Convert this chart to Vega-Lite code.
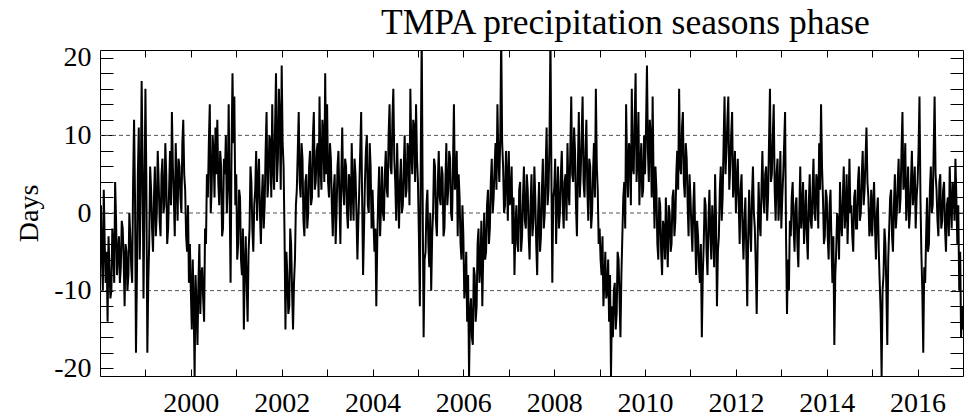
{
"$schema": "https://vega.github.io/schema/vega-lite/v6.json",
"width": 863, "height": 326,
"autosize": {"type": "none"},
"padding": {"left": 100, "top": 50, "right": 8, "bottom": 43},
"background": "white",
"config": {"view": {"stroke": "#000", "strokeWidth": 1}, "font": "Liberation Serif",
  "axis": {"labelFont": "Liberation Serif", "titleFont": "Liberation Serif", "labelColor": "#000", "titleColor": "#000", "tickColor": "#000", "grid": false, "domain": false}},
"title": {"text": "TMPA precipitation seasons phase", "fontSize": 35.5, "font": "Liberation Serif", "fontWeight": "normal", "color": "#000", "anchor": "start", "frame": "group", "dx": 281, "dy": 41, "offset": 15, "baseline": "alphabetic"},
"resolve": {"axis": {"x": "independent", "y": "independent"}},
"layer": [
 {"data": {"values": [{"g": -10}, {"g": 0}, {"g": 10}]},
  "mark": {"type": "rule", "color": "#555", "strokeDash": [4, 3], "strokeWidth": 1},
  "encoding": {"y": {"field": "g", "type": "quantitative", "scale": {"domain": [-21, 21], "nice": false, "zero": false},
    "axis": {"orient": "left", "values": [-20, -10, 0, 10, 20], "ticks": false, "labelExpr": "'' + datum.value", "labelFontSize": 28, "labelPadding": 9, "labelOverlap": false, "title": "Days", "titleFontSize": 28, "titleFontWeight": "normal", "titlePadding": 10}}}},
 {"data": {"values": [
{"t":1998,"v":-2},{"t":1998.021,"v":1},{"t":1998.042,"v":-6},{"t":1998.063,"v":-10},{"t":1998.083,"v":3},{"t":1998.104,"v":-4},{"t":1998.125,"v":-9},{"t":1998.146,"v":-5},{"t":1998.167,"v":-14},{"t":1998.188,"v":-3},{"t":1998.208,"v":-7},{"t":1998.229,"v":-11},{"t":1998.25,"v":-10},{"t":1998.271,"v":-2},{"t":1998.292,"v":-4},{"t":1998.313,"v":-9},{"t":1998.333,"v":4},{"t":1998.354,"v":-1},{"t":1998.375,"v":-8},{"t":1998.396,"v":-5},{"t":1998.417,"v":-3},{"t":1998.438,"v":-9},{"t":1998.458,"v":-7},{"t":1998.479,"v":-1},{"t":1998.5,"v":-2},{"t":1998.521,"v":-6},{"t":1998.542,"v":-12},{"t":1998.563,"v":-4},{"t":1998.583,"v":-5},{"t":1998.604,"v":-10},{"t":1998.625,"v":-8},{"t":1998.646,"v":0},{"t":1998.667,"v":-3},{"t":1998.688,"v":-7},{"t":1998.708,"v":-9},{"t":1998.729,"v":4},{"t":1998.75,"v":12},{"t":1998.771,"v":2},{"t":1998.792,"v":-18},{"t":1998.813,"v":-8},{"t":1998.833,"v":5},{"t":1998.854,"v":11},{"t":1998.875,"v":-6},{"t":1998.896,"v":3},{"t":1998.917,"v":17},{"t":1998.938,"v":6},{"t":1998.958,"v":-11},{"t":1998.979,"v":2},
{"t":1999,"v":16},{"t":1999.021,"v":4},{"t":1999.042,"v":-18},{"t":1999.063,"v":-9},{"t":1999.083,"v":-4},{"t":1999.104,"v":6},{"t":1999.125,"v":3},{"t":1999.146,"v":-2},{"t":1999.167,"v":-5},{"t":1999.188,"v":2},{"t":1999.208,"v":6},{"t":1999.229,"v":-3},{"t":1999.25,"v":0},{"t":1999.271,"v":8},{"t":1999.292,"v":4},{"t":1999.313,"v":-1},{"t":1999.333,"v":-3},{"t":1999.354,"v":5},{"t":1999.375,"v":7},{"t":1999.396,"v":0},{"t":1999.417,"v":1},{"t":1999.438,"v":9},{"t":1999.458,"v":5},{"t":1999.479,"v":-4},{"t":1999.5,"v":-2},{"t":1999.521,"v":3},{"t":1999.542,"v":8},{"t":1999.563,"v":1},{"t":1999.583,"v":13},{"t":1999.604,"v":6},{"t":1999.625,"v":2},{"t":1999.646,"v":-3},{"t":1999.667,"v":9},{"t":1999.688,"v":4},{"t":1999.708,"v":-1},{"t":1999.729,"v":7},{"t":1999.75,"v":6},{"t":1999.771,"v":2},{"t":1999.792,"v":0},{"t":1999.813,"v":9},{"t":1999.833,"v":12},{"t":1999.854,"v":5},{"t":1999.875,"v":3},{"t":1999.896,"v":-3},{"t":1999.917,"v":-5},{"t":1999.938,"v":1},{"t":1999.958,"v":-9},{"t":1999.979,"v":-4},
{"t":2000,"v":-10},{"t":2000.021,"v":-15},{"t":2000.042,"v":-6},{"t":2000.063,"v":-12},{"t":2000.083,"v":-21},{"t":2000.104,"v":-8},{"t":2000.125,"v":-12},{"t":2000.146,"v":-17},{"t":2000.167,"v":-9},{"t":2000.188,"v":-4},{"t":2000.208,"v":-13},{"t":2000.229,"v":-8},{"t":2000.25,"v":-7},{"t":2000.271,"v":-11},{"t":2000.292,"v":-14},{"t":2000.313,"v":-2},{"t":2000.333,"v":-4},{"t":2000.354,"v":5},{"t":2000.375,"v":2},{"t":2000.396,"v":9},{"t":2000.417,"v":14},{"t":2000.438,"v":0},{"t":2000.458,"v":3},{"t":2000.479,"v":10},{"t":2000.5,"v":8},{"t":2000.521,"v":2},{"t":2000.542,"v":11},{"t":2000.563,"v":5},{"t":2000.583,"v":12},{"t":2000.604,"v":4},{"t":2000.625,"v":1},{"t":2000.646,"v":8},{"t":2000.667,"v":6},{"t":2000.688,"v":-3},{"t":2000.708,"v":-2},{"t":2000.729,"v":7},{"t":2000.75,"v":5},{"t":2000.771,"v":10},{"t":2000.792,"v":0},{"t":2000.813,"v":4},{"t":2000.833,"v":14},{"t":2000.854,"v":2},{"t":2000.875,"v":-9},{"t":2000.896,"v":8},{"t":2000.917,"v":18},{"t":2000.938,"v":9},{"t":2000.958,"v":15},{"t":2000.979,"v":1},
{"t":2001,"v":5},{"t":2001.021,"v":-6},{"t":2001.042,"v":-4},{"t":2001.063,"v":3},{"t":2001.083,"v":2},{"t":2001.104,"v":-6},{"t":2001.125,"v":-8},{"t":2001.146,"v":-2},{"t":2001.167,"v":-15},{"t":2001.188,"v":-7},{"t":2001.208,"v":-3},{"t":2001.229,"v":-9},{"t":2001.25,"v":-14},{"t":2001.271,"v":-5},{"t":2001.292,"v":-2},{"t":2001.313,"v":6},{"t":2001.333,"v":4},{"t":2001.354,"v":-2},{"t":2001.375,"v":-5},{"t":2001.396,"v":1},{"t":2001.417,"v":3},{"t":2001.438,"v":8},{"t":2001.458,"v":-1},{"t":2001.479,"v":4},{"t":2001.5,"v":7},{"t":2001.521,"v":0},{"t":2001.542,"v":-4},{"t":2001.563,"v":2},{"t":2001.583,"v":5},{"t":2001.604,"v":-2},{"t":2001.625,"v":1},{"t":2001.646,"v":8},{"t":2001.667,"v":13},{"t":2001.688,"v":2},{"t":2001.708,"v":4},{"t":2001.729,"v":10},{"t":2001.75,"v":9},{"t":2001.771,"v":2},{"t":2001.792,"v":14},{"t":2001.813,"v":6},{"t":2001.833,"v":3},{"t":2001.854,"v":11},{"t":2001.875,"v":18},{"t":2001.896,"v":4},{"t":2001.917,"v":7},{"t":2001.938,"v":16},{"t":2001.958,"v":12},{"t":2001.979,"v":3},
{"t":2002,"v":19},{"t":2002.021,"v":9},{"t":2002.042,"v":6},{"t":2002.063,"v":-3},{"t":2002.083,"v":-15},{"t":2002.104,"v":-5},{"t":2002.125,"v":-8},{"t":2002.146,"v":-13},{"t":2002.167,"v":-12},{"t":2002.188,"v":-2},{"t":2002.208,"v":-4},{"t":2002.229,"v":-10},{"t":2002.25,"v":-15},{"t":2002.271,"v":-9},{"t":2002.292,"v":-6},{"t":2002.313,"v":1},{"t":2002.333,"v":3},{"t":2002.354,"v":8},{"t":2002.375,"v":13},{"t":2002.396,"v":4},{"t":2002.417,"v":2},{"t":2002.438,"v":9},{"t":2002.458,"v":7},{"t":2002.479,"v":-1},{"t":2002.5,"v":-3},{"t":2002.521,"v":4},{"t":2002.542,"v":5},{"t":2002.563,"v":-2},{"t":2002.583,"v":0},{"t":2002.604,"v":6},{"t":2002.625,"v":8},{"t":2002.646,"v":1},{"t":2002.667,"v":2},{"t":2002.688,"v":10},{"t":2002.708,"v":13},{"t":2002.729,"v":3},{"t":2002.75,"v":4},{"t":2002.771,"v":8},{"t":2002.792,"v":9},{"t":2002.813,"v":2},{"t":2002.833,"v":15},{"t":2002.854,"v":6},{"t":2002.875,"v":3},{"t":2002.896,"v":12},{"t":2002.917,"v":10},{"t":2002.938,"v":4},{"t":2002.958,"v":18},{"t":2002.979,"v":5},
{"t":2003,"v":14},{"t":2003.021,"v":4},{"t":2003.042,"v":2},{"t":2003.063,"v":9},{"t":2003.083,"v":7},{"t":2003.104,"v":1},{"t":2003.125,"v":-3},{"t":2003.146,"v":3},{"t":2003.167,"v":5},{"t":2003.188,"v":-4},{"t":2003.208,"v":0},{"t":2003.229,"v":6},{"t":2003.25,"v":8},{"t":2003.271,"v":2},{"t":2003.292,"v":-4},{"t":2003.313,"v":5},{"t":2003.333,"v":11},{"t":2003.354,"v":3},{"t":2003.375,"v":1},{"t":2003.396,"v":7},{"t":2003.417,"v":6},{"t":2003.438,"v":0},{"t":2003.458,"v":-2},{"t":2003.479,"v":5},{"t":2003.5,"v":4},{"t":2003.521,"v":-1},{"t":2003.542,"v":9},{"t":2003.563,"v":3},{"t":2003.583,"v":-1},{"t":2003.604,"v":7},{"t":2003.625,"v":5},{"t":2003.646,"v":0},{"t":2003.667,"v":-6},{"t":2003.688,"v":-1},{"t":2003.708,"v":3},{"t":2003.729,"v":8},{"t":2003.75,"v":13},{"t":2003.771,"v":2},{"t":2003.792,"v":-8},{"t":2003.813,"v":-2},{"t":2003.833,"v":4},{"t":2003.854,"v":8},{"t":2003.875,"v":10},{"t":2003.896,"v":1},{"t":2003.917,"v":0},{"t":2003.938,"v":9},{"t":2003.958,"v":6},{"t":2003.979,"v":-2},
{"t":2004,"v":3},{"t":2004.021,"v":-1},{"t":2004.042,"v":-5},{"t":2004.063,"v":-2},{"t":2004.083,"v":-12},{"t":2004.104,"v":-4},{"t":2004.125,"v":2},{"t":2004.146,"v":6},{"t":2004.167,"v":-3},{"t":2004.188,"v":1},{"t":2004.208,"v":6},{"t":2004.229,"v":0},{"t":2004.25,"v":-1},{"t":2004.271,"v":5},{"t":2004.292,"v":8},{"t":2004.313,"v":3},{"t":2004.333,"v":2},{"t":2004.354,"v":10},{"t":2004.375,"v":14},{"t":2004.396,"v":6},{"t":2004.417,"v":5},{"t":2004.438,"v":12},{"t":2004.458,"v":16},{"t":2004.479,"v":7},{"t":2004.5,"v":4},{"t":2004.521,"v":-1},{"t":2004.542,"v":9},{"t":2004.563,"v":3},{"t":2004.583,"v":-2},{"t":2004.604,"v":4},{"t":2004.625,"v":7},{"t":2004.646,"v":0},{"t":2004.667,"v":1},{"t":2004.688,"v":6},{"t":2004.708,"v":10},{"t":2004.729,"v":2},{"t":2004.75,"v":3},{"t":2004.771,"v":9},{"t":2004.792,"v":8},{"t":2004.813,"v":1},{"t":2004.833,"v":16},{"t":2004.854,"v":8},{"t":2004.875,"v":5},{"t":2004.896,"v":12},{"t":2004.917,"v":11},{"t":2004.938,"v":4},{"t":2004.958,"v":14},{"t":2004.979,"v":7},
{"t":2005,"v":4},{"t":2005.021,"v":-3},{"t":2005.042,"v":-12},{"t":2005.063,"v":8},{"t":2005.083,"v":23},{"t":2005.104,"v":2},{"t":2005.125,"v":-16},{"t":2005.146,"v":-6},{"t":2005.167,"v":-5},{"t":2005.188,"v":1},{"t":2005.208,"v":3},{"t":2005.229,"v":-4},{"t":2005.25,"v":-7},{"t":2005.271,"v":0},{"t":2005.292,"v":-10},{"t":2005.313,"v":-3},{"t":2005.333,"v":0},{"t":2005.354,"v":7},{"t":2005.375,"v":6},{"t":2005.396,"v":-1},{"t":2005.417,"v":-3},{"t":2005.438,"v":4},{"t":2005.458,"v":8},{"t":2005.479,"v":2},{"t":2005.5,"v":1},{"t":2005.521,"v":6},{"t":2005.542,"v":5},{"t":2005.563,"v":-3},{"t":2005.583,"v":-2},{"t":2005.604,"v":4},{"t":2005.625,"v":9},{"t":2005.646,"v":1},{"t":2005.667,"v":3},{"t":2005.688,"v":8},{"t":2005.708,"v":7},{"t":2005.729,"v":0},{"t":2005.75,"v":-1},{"t":2005.771,"v":6},{"t":2005.792,"v":14},{"t":2005.813,"v":3},{"t":2005.833,"v":4},{"t":2005.854,"v":8},{"t":2005.875,"v":-3},{"t":2005.896,"v":5},{"t":2005.917,"v":2},{"t":2005.938,"v":-4},{"t":2005.958,"v":-6},{"t":2005.979,"v":1},
{"t":2006,"v":-3},{"t":2006.021,"v":-11},{"t":2006.042,"v":-9},{"t":2006.063,"v":-5},{"t":2006.083,"v":-14},{"t":2006.104,"v":-8},{"t":2006.125,"v":-21},{"t":2006.146,"v":-13},{"t":2006.167,"v":-11},{"t":2006.188,"v":-16},{"t":2006.208,"v":-17},{"t":2006.229,"v":-7},{"t":2006.25,"v":-8},{"t":2006.271,"v":-14},{"t":2006.292,"v":-12},{"t":2006.313,"v":-4},{"t":2006.333,"v":-2},{"t":2006.354,"v":-9},{"t":2006.375,"v":-7},{"t":2006.396,"v":-1},{"t":2006.417,"v":-12},{"t":2006.438,"v":-5},{"t":2006.458,"v":0},{"t":2006.479,"v":-6},{"t":2006.5,"v":-5},{"t":2006.521,"v":1},{"t":2006.542,"v":3},{"t":2006.563,"v":-4},{"t":2006.583,"v":-2},{"t":2006.604,"v":4},{"t":2006.625,"v":7},{"t":2006.646,"v":0},{"t":2006.667,"v":2},{"t":2006.688,"v":6},{"t":2006.708,"v":9},{"t":2006.729,"v":3},{"t":2006.75,"v":14},{"t":2006.771,"v":7},{"t":2006.792,"v":4},{"t":2006.813,"v":10},{"t":2006.833,"v":23},{"t":2006.854,"v":9},{"t":2006.875,"v":6},{"t":2006.896,"v":0},{"t":2006.917,"v":1},{"t":2006.938,"v":8},{"t":2006.958,"v":5},{"t":2006.979,"v":-1},
{"t":2007,"v":8},{"t":2007.021,"v":1},{"t":2007.042,"v":2},{"t":2007.063,"v":6},{"t":2007.083,"v":-4},{"t":2007.104,"v":2},{"t":2007.125,"v":-8},{"t":2007.146,"v":-2},{"t":2007.167,"v":1},{"t":2007.188,"v":-4},{"t":2007.208,"v":-5},{"t":2007.229,"v":3},{"t":2007.25,"v":4},{"t":2007.271,"v":-5},{"t":2007.292,"v":-3},{"t":2007.313,"v":2},{"t":2007.333,"v":6},{"t":2007.354,"v":-1},{"t":2007.375,"v":-2},{"t":2007.396,"v":5},{"t":2007.417,"v":3},{"t":2007.438,"v":-3},{"t":2007.458,"v":-6},{"t":2007.479,"v":1},{"t":2007.5,"v":5},{"t":2007.521,"v":-3},{"t":2007.542,"v":-1},{"t":2007.563,"v":6},{"t":2007.583,"v":2},{"t":2007.604,"v":-4},{"t":2007.625,"v":-8},{"t":2007.646,"v":0},{"t":2007.667,"v":4},{"t":2007.688,"v":-5},{"t":2007.708,"v":-3},{"t":2007.729,"v":3},{"t":2007.75,"v":7},{"t":2007.771,"v":-2},{"t":2007.792,"v":0},{"t":2007.813,"v":6},{"t":2007.833,"v":11},{"t":2007.854,"v":1},{"t":2007.875,"v":3},{"t":2007.896,"v":9},{"t":2007.917,"v":23},{"t":2007.938,"v":5},{"t":2007.958,"v":-9},{"t":2007.979,"v":2},
{"t":2008,"v":3},{"t":2008.021,"v":7},{"t":2008.042,"v":-4},{"t":2008.063,"v":2},{"t":2008.083,"v":6},{"t":2008.104,"v":-2},{"t":2008.125,"v":0},{"t":2008.146,"v":5},{"t":2008.167,"v":8},{"t":2008.188,"v":1},{"t":2008.208,"v":-2},{"t":2008.229,"v":4},{"t":2008.25,"v":5},{"t":2008.271,"v":-1},{"t":2008.292,"v":9},{"t":2008.313,"v":3},{"t":2008.333,"v":1},{"t":2008.354,"v":8},{"t":2008.375,"v":15},{"t":2008.396,"v":5},{"t":2008.417,"v":4},{"t":2008.438,"v":11},{"t":2008.458,"v":8},{"t":2008.479,"v":1},{"t":2008.5,"v":-3},{"t":2008.521,"v":6},{"t":2008.542,"v":13},{"t":2008.563,"v":2},{"t":2008.583,"v":5},{"t":2008.604,"v":10},{"t":2008.625,"v":15},{"t":2008.646,"v":4},{"t":2008.667,"v":2},{"t":2008.688,"v":8},{"t":2008.708,"v":12},{"t":2008.729,"v":3},{"t":2008.75,"v":-1},{"t":2008.771,"v":7},{"t":2008.792,"v":6},{"t":2008.813,"v":-2},{"t":2008.833,"v":0},{"t":2008.854,"v":5},{"t":2008.875,"v":9},{"t":2008.896,"v":2},{"t":2008.917,"v":16},{"t":2008.938,"v":6},{"t":2008.958,"v":3},{"t":2008.979,"v":-4},
{"t":2009,"v":-2},{"t":2009.021,"v":-6},{"t":2009.042,"v":-8},{"t":2009.063,"v":-3},{"t":2009.083,"v":-12},{"t":2009.104,"v":-9},{"t":2009.125,"v":-5},{"t":2009.146,"v":-11},{"t":2009.167,"v":-10},{"t":2009.188,"v":-6},{"t":2009.208,"v":-14},{"t":2009.229,"v":-8},{"t":2009.25,"v":-21},{"t":2009.271,"v":-12},{"t":2009.292,"v":-16},{"t":2009.313,"v":-10},{"t":2009.333,"v":-9},{"t":2009.354,"v":-15},{"t":2009.375,"v":-13},{"t":2009.396,"v":-5},{"t":2009.417,"v":-6},{"t":2009.438,"v":-11},{"t":2009.458,"v":-16},{"t":2009.479,"v":-8},{"t":2009.5,"v":-3},{"t":2009.521,"v":2},{"t":2009.542,"v":4},{"t":2009.563,"v":-2},{"t":2009.583,"v":14},{"t":2009.604,"v":6},{"t":2009.625,"v":2},{"t":2009.646,"v":9},{"t":2009.667,"v":8},{"t":2009.688,"v":1},{"t":2009.708,"v":16},{"t":2009.729,"v":6},{"t":2009.75,"v":5},{"t":2009.771,"v":12},{"t":2009.792,"v":18},{"t":2009.813,"v":4},{"t":2009.833,"v":7},{"t":2009.854,"v":13},{"t":2009.875,"v":1},{"t":2009.896,"v":6},{"t":2009.917,"v":9},{"t":2009.938,"v":2},{"t":2009.958,"v":3},{"t":2009.979,"v":10},
{"t":2010,"v":5},{"t":2010.021,"v":11},{"t":2010.042,"v":19},{"t":2010.063,"v":8},{"t":2010.083,"v":4},{"t":2010.104,"v":12},{"t":2010.125,"v":10},{"t":2010.146,"v":2},{"t":2010.167,"v":15},{"t":2010.188,"v":4},{"t":2010.208,"v":-2},{"t":2010.229,"v":6},{"t":2010.25,"v":3},{"t":2010.271,"v":-4},{"t":2010.292,"v":-6},{"t":2010.313,"v":2},{"t":2010.333,"v":1},{"t":2010.354,"v":-5},{"t":2010.375,"v":-8},{"t":2010.396,"v":-1},{"t":2010.417,"v":-2},{"t":2010.438,"v":-6},{"t":2010.458,"v":2},{"t":2010.479,"v":-3},{"t":2010.5,"v":-7},{"t":2010.521,"v":1},{"t":2010.542,"v":0},{"t":2010.563,"v":-5},{"t":2010.583,"v":-4},{"t":2010.604,"v":2},{"t":2010.625,"v":3},{"t":2010.646,"v":-3},{"t":2010.667,"v":-1},{"t":2010.688,"v":5},{"t":2010.708,"v":8},{"t":2010.729,"v":3},{"t":2010.75,"v":16},{"t":2010.771,"v":6},{"t":2010.792,"v":5},{"t":2010.813,"v":11},{"t":2010.833,"v":13},{"t":2010.854,"v":4},{"t":2010.875,"v":2},{"t":2010.896,"v":9},{"t":2010.917,"v":7},{"t":2010.938,"v":1},{"t":2010.958,"v":-3},{"t":2010.979,"v":5},
{"t":2011,"v":2},{"t":2011.021,"v":-2},{"t":2011.042,"v":-5},{"t":2011.063,"v":1},{"t":2011.083,"v":4},{"t":2011.104,"v":-3},{"t":2011.125,"v":-8},{"t":2011.146,"v":-1},{"t":2011.167,"v":-3},{"t":2011.188,"v":-7},{"t":2011.208,"v":-9},{"t":2011.229,"v":-4},{"t":2011.25,"v":-16},{"t":2011.271,"v":-8},{"t":2011.292,"v":-4},{"t":2011.313,"v":2},{"t":2011.333,"v":1},{"t":2011.354,"v":-5},{"t":2011.375,"v":-8},{"t":2011.396,"v":-1},{"t":2011.417,"v":3},{"t":2011.438,"v":-3},{"t":2011.458,"v":-6},{"t":2011.479,"v":1},{"t":2011.5,"v":-2},{"t":2011.521,"v":-7},{"t":2011.542,"v":5},{"t":2011.563,"v":-1},{"t":2011.583,"v":-12},{"t":2011.604,"v":-5},{"t":2011.625,"v":-3},{"t":2011.646,"v":3},{"t":2011.667,"v":6},{"t":2011.688,"v":-1},{"t":2011.708,"v":2},{"t":2011.729,"v":9},{"t":2011.75,"v":15},{"t":2011.771,"v":5},{"t":2011.792,"v":8},{"t":2011.813,"v":12},{"t":2011.833,"v":15},{"t":2011.854,"v":3},{"t":2011.875,"v":6},{"t":2011.896,"v":10},{"t":2011.917,"v":13},{"t":2011.938,"v":2},{"t":2011.958,"v":4},{"t":2011.979,"v":8},
{"t":2012,"v":0},{"t":2012.021,"v":4},{"t":2012.042,"v":7},{"t":2012.063,"v":1},{"t":2012.083,"v":-4},{"t":2012.104,"v":3},{"t":2012.125,"v":5},{"t":2012.146,"v":-2},{"t":2012.167,"v":-6},{"t":2012.188,"v":-1},{"t":2012.208,"v":2},{"t":2012.229,"v":-5},{"t":2012.25,"v":-12},{"t":2012.271,"v":-3},{"t":2012.292,"v":3},{"t":2012.313,"v":-2},{"t":2012.333,"v":-5},{"t":2012.354,"v":2},{"t":2012.375,"v":6},{"t":2012.396,"v":0},{"t":2012.417,"v":-2},{"t":2012.438,"v":-7},{"t":2012.458,"v":-13},{"t":2012.479,"v":-4},{"t":2012.5,"v":4},{"t":2012.521,"v":-1},{"t":2012.542,"v":-3},{"t":2012.563,"v":3},{"t":2012.583,"v":8},{"t":2012.604,"v":2},{"t":2012.625,"v":0},{"t":2012.646,"v":5},{"t":2012.667,"v":6},{"t":2012.688,"v":-1},{"t":2012.708,"v":2},{"t":2012.729,"v":9},{"t":2012.75,"v":16},{"t":2012.771,"v":4},{"t":2012.792,"v":5},{"t":2012.813,"v":10},{"t":2012.833,"v":14},{"t":2012.854,"v":3},{"t":2012.875,"v":-1},{"t":2012.896,"v":5},{"t":2012.917,"v":7},{"t":2012.938,"v":-1},{"t":2012.958,"v":2},{"t":2012.979,"v":8},
{"t":2013,"v":-2},{"t":2013.021,"v":2},{"t":2013.042,"v":5},{"t":2013.063,"v":9},{"t":2013.083,"v":13},{"t":2013.104,"v":-3},{"t":2013.125,"v":-13},{"t":2013.146,"v":-6},{"t":2013.167,"v":-10},{"t":2013.188,"v":-1},{"t":2013.208,"v":-3},{"t":2013.229,"v":2},{"t":2013.25,"v":4},{"t":2013.271,"v":-2},{"t":2013.292,"v":-5},{"t":2013.313,"v":1},{"t":2013.333,"v":2},{"t":2013.354,"v":-4},{"t":2013.375,"v":-7},{"t":2013.396,"v":0},{"t":2013.417,"v":6},{"t":2013.438,"v":-2},{"t":2013.458,"v":0},{"t":2013.479,"v":4},{"t":2013.5,"v":-4},{"t":2013.521,"v":-1},{"t":2013.542,"v":3},{"t":2013.563,"v":-3},{"t":2013.583,"v":-6},{"t":2013.604,"v":1},{"t":2013.625,"v":5},{"t":2013.646,"v":-1},{"t":2013.667,"v":-2},{"t":2013.688,"v":3},{"t":2013.708,"v":7},{"t":2013.729,"v":0},{"t":2013.75,"v":-1},{"t":2013.771,"v":5},{"t":2013.792,"v":4},{"t":2013.813,"v":-2},{"t":2013.833,"v":9},{"t":2013.854,"v":3},{"t":2013.875,"v":14},{"t":2013.896,"v":6},{"t":2013.917,"v":2},{"t":2013.938,"v":-4},{"t":2013.958,"v":-3},{"t":2013.979,"v":3},
{"t":2014,"v":2},{"t":2014.021,"v":-3},{"t":2014.042,"v":-6},{"t":2014.063,"v":1},{"t":2014.083,"v":3},{"t":2014.104,"v":-4},{"t":2014.125,"v":-9},{"t":2014.146,"v":-3},{"t":2014.167,"v":-17},{"t":2014.188,"v":-8},{"t":2014.208,"v":-5},{"t":2014.229,"v":0},{"t":2014.25,"v":-1},{"t":2014.271,"v":-6},{"t":2014.292,"v":4},{"t":2014.313,"v":-1},{"t":2014.333,"v":-3},{"t":2014.354,"v":2},{"t":2014.375,"v":6},{"t":2014.396,"v":-2},{"t":2014.417,"v":0},{"t":2014.438,"v":5},{"t":2014.458,"v":-4},{"t":2014.479,"v":1},{"t":2014.5,"v":7},{"t":2014.521,"v":0},{"t":2014.542,"v":1},{"t":2014.563,"v":-3},{"t":2014.583,"v":-5},{"t":2014.604,"v":2},{"t":2014.625,"v":3},{"t":2014.646,"v":-2},{"t":2014.667,"v":-2},{"t":2014.688,"v":4},{"t":2014.708,"v":6},{"t":2014.729,"v":-1},{"t":2014.75,"v":0},{"t":2014.771,"v":5},{"t":2014.792,"v":8},{"t":2014.813,"v":1},{"t":2014.833,"v":3},{"t":2014.854,"v":7},{"t":2014.875,"v":11},{"t":2014.896,"v":4},{"t":2014.917,"v":2},{"t":2014.938,"v":-3},{"t":2014.958,"v":-2},{"t":2014.979,"v":3},
{"t":2015,"v":-3},{"t":2015.021,"v":1},{"t":2015.042,"v":4},{"t":2015.063,"v":-2},{"t":2015.083,"v":-6},{"t":2015.104,"v":0},{"t":2015.125,"v":2},{"t":2015.146,"v":-5},{"t":2015.167,"v":-9},{"t":2015.188,"v":-13},{"t":2015.208,"v":-21},{"t":2015.229,"v":-10},{"t":2015.25,"v":-8},{"t":2015.271,"v":-2},{"t":2015.292,"v":-4},{"t":2015.313,"v":-10},{"t":2015.333,"v":-17},{"t":2015.354,"v":-6},{"t":2015.375,"v":-2},{"t":2015.396,"v":2},{"t":2015.417,"v":3},{"t":2015.438,"v":-3},{"t":2015.458,"v":-5},{"t":2015.479,"v":1},{"t":2015.5,"v":5},{"t":2015.521,"v":-2},{"t":2015.542,"v":0},{"t":2015.563,"v":4},{"t":2015.583,"v":7},{"t":2015.604,"v":0},{"t":2015.625,"v":2},{"t":2015.646,"v":8},{"t":2015.667,"v":13},{"t":2015.688,"v":3},{"t":2015.708,"v":4},{"t":2015.729,"v":9},{"t":2015.75,"v":-1},{"t":2015.771,"v":2},{"t":2015.792,"v":6},{"t":2015.813,"v":-2},{"t":2015.833,"v":0},{"t":2015.854,"v":4},{"t":2015.875,"v":8},{"t":2015.896,"v":1},{"t":2015.917,"v":3},{"t":2015.938,"v":6},{"t":2015.958,"v":-2},{"t":2015.979,"v":2},
{"t":2016,"v":4},{"t":2016.021,"v":8},{"t":2016.042,"v":15},{"t":2016.063,"v":2},{"t":2016.083,"v":-5},{"t":2016.104,"v":-10},{"t":2016.125,"v":-18},{"t":2016.146,"v":-7},{"t":2016.167,"v":-9},{"t":2016.188,"v":-3},{"t":2016.208,"v":2},{"t":2016.229,"v":-5},{"t":2016.25,"v":-4},{"t":2016.271,"v":3},{"t":2016.292,"v":6},{"t":2016.313,"v":0},{"t":2016.333,"v":1},{"t":2016.354,"v":8},{"t":2016.375,"v":15},{"t":2016.396,"v":5},{"t":2016.417,"v":3},{"t":2016.438,"v":-1},{"t":2016.458,"v":-3},{"t":2016.479,"v":4},{"t":2016.5,"v":5},{"t":2016.521,"v":-2},{"t":2016.542,"v":-1},{"t":2016.563,"v":3},{"t":2016.583,"v":4},{"t":2016.604,"v":-2},{"t":2016.625,"v":-5},{"t":2016.646,"v":1},{"t":2016.667,"v":2},{"t":2016.688,"v":-3},{"t":2016.708,"v":6},{"t":2016.729,"v":1},{"t":2016.75,"v":-2},{"t":2016.771,"v":4},{"t":2016.792,"v":3},{"t":2016.813,"v":-1},{"t":2016.833,"v":7},{"t":2016.854,"v":2},{"t":2016.875,"v":-4},{"t":2016.896,"v":1},{"t":2016.917,"v":-10},{"t":2016.938,"v":-5},{"t":2016.958,"v":-16},{"t":2016.979,"v":-12},{"t":2017,"v":-15}
 ]},
  "mark": {"type": "line", "color": "#000", "strokeWidth": 2, "clip": true},
  "encoding": {
   "x": {"field": "t", "type": "quantitative", "scale": {"domain": [1998, 2017], "nice": false, "zero": false},
    "axis": {"orient": "bottom", "values": [1999,2000,2001,2002,2003,2004,2005,2006,2007,2008,2009,2010,2011,2012,2013,2014,2015,2016], "tickSize": -7, "labels": false, "title": null}},
   "y": {"field": "v", "type": "quantitative", "scale": {"domain": [-21, 21], "nice": false, "zero": false},
    "axis": {"orient": "right", "values": [-20,-18,-16,-14,-12,-10,-8,-6,-4,-2,0,2,4,6,8,10,12,14,16,18,20], "tickSize": -13, "labels": false, "title": null}}}},
 {"data": {"values": [{"yr": 1999, "g": 0}]},
  "mark": {"type": "point", "opacity": 0},
  "encoding": {
   "x": {"field": "yr", "type": "quantitative", "scale": {"domain": [1998, 2017], "nice": false, "zero": false},
    "axis": {"orient": "top", "values": [1999,2000,2001,2002,2003,2004,2005,2006,2007,2008,2009,2010,2011,2012,2013,2014,2015,2016], "tickSize": -7, "labels": false, "title": null}},
   "y": {"field": "g", "type": "quantitative", "scale": {"domain": [-21, 21], "nice": false, "zero": false},
    "axis": {"orient": "left", "values": [-20,-18,-16,-14,-12,-10,-8,-6,-4,-2,0,2,4,6,8,10,12,14,16,18,20], "tickSize": -13, "labels": false, "title": null}}}},
 {"data": {"values": [{"yr": 2000}]},
  "mark": {"type": "point", "opacity": 0},
  "encoding": {
   "x": {"field": "yr", "type": "quantitative", "scale": {"domain": [1998, 2017], "nice": false, "zero": false},
    "axis": {"orient": "bottom", "values": [2000,2002,2004,2006,2008,2010,2012,2014,2016], "ticks": false, "labelExpr": "'' + datum.value", "labelFontSize": 28, "labelPadding": 13, "labelOverlap": false, "labelFlush": false, "title": null}}}}
]
}
